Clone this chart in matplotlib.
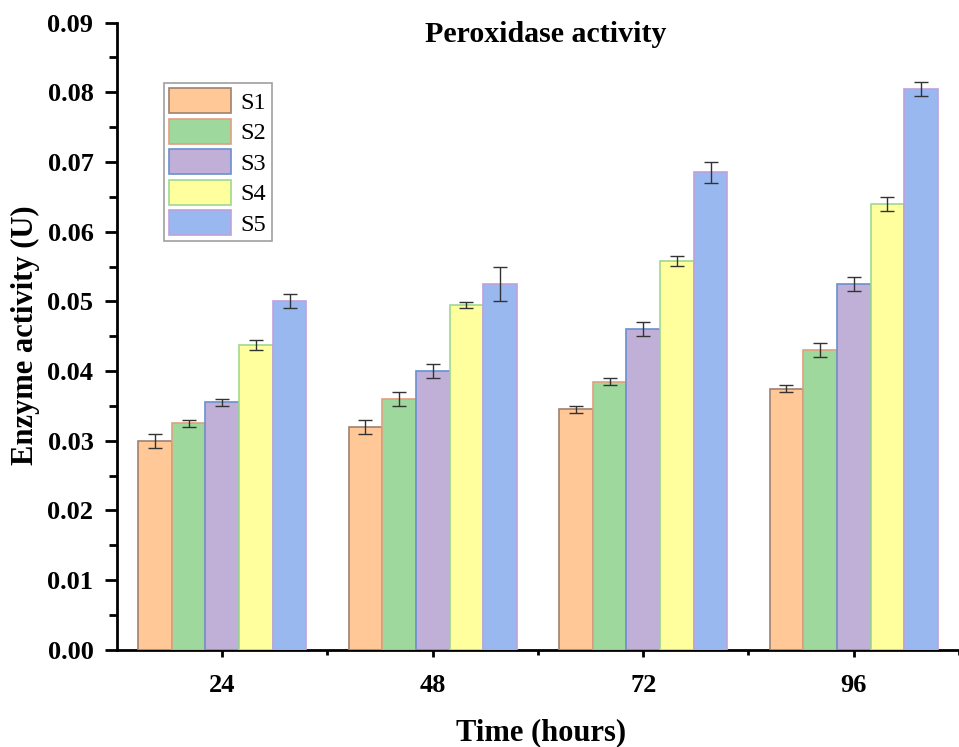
import numpy as np
import matplotlib
matplotlib.use("Agg")
import matplotlib.pyplot as plt
from matplotlib.ticker import MultipleLocator, FormatStrFormatter

plt.rcParams['font.family'] = ['Liberation Serif', 'DejaVu Serif']

# data
hours = ['24', '48', '72', '96']
labels = ['S1', 'S2', 'S3', 'S4', 'S5']
S1 = [0.0300, 0.0320, 0.0345, 0.0375]
S2 = [0.0325, 0.0360, 0.0385, 0.0430]
S3 = [0.0355, 0.0400, 0.0460, 0.0525]
S4 = [0.0438, 0.0495, 0.0558, 0.0640]
S5 = [0.0500, 0.0525, 0.0685, 0.0805]
S1_err = [0.0010, 0.0010, 0.0005, 0.0005]
S2_err = [0.0005, 0.0010, 0.0005, 0.0010]
S3_err = [0.0005, 0.0010, 0.0010, 0.0010]
S4_err = [0.0007, 0.0004, 0.0007, 0.0010]
S5_err = [0.0010, 0.0025, 0.0015, 0.0010]

fills = ['#FFC896', '#9ED89C', '#C0B0D8', '#FFFF9E', '#9AB8F0']
edges = ['#A08070', '#E0A080', '#6A90D0', '#A0D890', '#C0A0E0']

fig = plt.figure(figsize=(9.59, 7.47), dpi=100)
ax = fig.add_axes([0.122, 0.13, 0.878, 0.8397])

x = np.arange(len(hours))
w = 0.16
series = [S1, S2, S3, S4, S5]
errs = [S1_err, S2_err, S3_err, S4_err, S5_err]
for i in range(5):
    ax.bar(x + (i - 2) * w, series[i], w, color=fills[i], edgecolor=edges[i],
           linewidth=1.2, label=labels[i], zorder=3,
           yerr=errs[i], capsize=5,
           error_kw=dict(ecolor='#333333', elinewidth=1, capthick=1, zorder=4))

ax.set_xlim(-0.5, 3.46)
ax.set_ylim(0, 0.09)
ax.set_xticks(x)
ax.set_xticklabels(hours)
ax.set_xticks(x + 0.5, minor=True)
ax.yaxis.set_major_locator(MultipleLocator(0.01))
ax.yaxis.set_minor_locator(MultipleLocator(0.005))
ax.yaxis.set_major_formatter(FormatStrFormatter('%.2f'))

for s in ['top', 'right']:
    ax.spines[s].set_visible(False)
for s in ['left', 'bottom']:
    ax.spines[s].set_linewidth(2)
    ax.spines[s].set_zorder(2)

ax.tick_params(axis='y', which='major', direction='out', length=9, width=2,
               labelsize=19, pad=8)
ax.tick_params(axis='y', which='minor', direction='out', length=6, width=2)
ax.tick_params(axis='x', which='major', direction='out', length=5, width=2,
               labelsize=19, pad=12)
ax.tick_params(axis='x', which='minor', direction='out', length=3.5, width=2)
for t in ax.get_xticklabels() + ax.get_yticklabels():
    t.set_fontweight('bold')

fig.text(0.5693, 1 - 42 / 747, 'Peroxidase activity', fontsize=21.5,
         fontweight='bold', ha='center', va='baseline')
fig.text(0.5647, 1 - 740 / 747, 'Time (hours)', fontsize=22,
         fontweight='bold', ha='center', va='baseline')
fig.text(25 / 959, 1 - 335 / 747, 'Enzyme activity (U)', fontsize=22,
         fontweight='bold', ha='center', va='center', rotation=90)

leg = ax.legend(loc='upper left', bbox_to_anchor=(0.056, 0.904), fontsize=17.5,
                frameon=True, fancybox=False, edgecolor='#888888',
                handlelength=2.55, handleheight=1.2, labelspacing=0.2,
                handletextpad=0.38, borderpad=0.22, borderaxespad=0)
leg.get_frame().set_linewidth(1.2)

fig.savefig('out.png', dpi=100)
